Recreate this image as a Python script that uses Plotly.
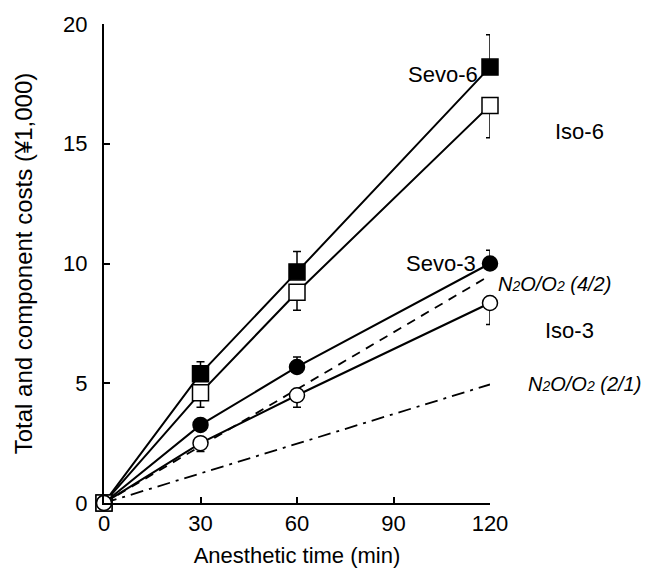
import plotly.graph_objects as go

time_min = [0, 30, 60, 120]
sevo6 = [0, 5.4, 9.65, 18.2]
sevo6_err = [0, 0.5, 0.85, 1.35]
iso6 = [0, 4.6, 8.8, 16.6]
iso6_err = [0, 0.6, 0.75, 1.35]
sevo3 = [0, 3.26, 5.68, 10.0]
sevo3_err = [0, 0.0, 0.42, 0.55]
iso3 = [0, 2.5, 4.5, 8.35]
iso3_err = [0, 0.35, 0.5, 0.9]
n2o_42_time = [0, 120]
n2o_42 = [0, 9.5]
n2o_21_time = [0, 120]
n2o_21 = [0, 4.95]

FONT = "Liberation Sans, Arial, Helvetica, sans-serif"
fig = go.Figure()

fig.add_trace(go.Scatter(x=n2o_21_time, y=n2o_21, mode="lines",
                         line=dict(color="black", width=1.8, dash="13px,6px,3px,6px"),
                         cliponaxis=False, showlegend=False))
fig.add_trace(go.Scatter(x=n2o_42_time, y=n2o_42, mode="lines",
                         line=dict(color="black", width=1.8, dash="9px,7px"),
                         cliponaxis=False, showlegend=False))

def add_series(y, err, symbol, fill, up):
    ed = dict(type="data", symmetric=False, color="black", thickness=1.5, width=4)
    if up:
        ed["array"] = err
        ed["arrayminus"] = [0] * len(err)
    else:
        ed["array"] = [0] * len(err)
        ed["arrayminus"] = err
    fig.add_trace(go.Scatter(x=time_min, y=y, mode="lines+markers",
                             line=dict(color="black", width=2),
                             marker=dict(symbol=symbol, size=16 if "square" in symbol else 15,
                                         color=fill, line=dict(color="black", width=1.5)),
                             error_y=ed, cliponaxis=False, showlegend=False))

add_series(sevo6, sevo6_err, "square", "black", True)
add_series(iso6, iso6_err, "square", "white", False)
add_series(sevo3, sevo3_err, "circle", "black", True)
add_series(iso3, iso3_err, "circle", "white", False)

# paper coordinates: x = (px - 104) / 386, y = (503 - py) / 479
sub = '<span style="font-size:14px">2</span>'
labels = [
    dict(x=0.878, y=0.894, text="Sevo-6", xanchor="center", size=22),
    dict(x=1.231, y=0.775, text="Iso-6", xanchor="center", size=22),
    dict(x=0.873, y=0.501, text="Sevo-3", xanchor="center", size=22),
    dict(x=1.205, y=0.361, text="Iso-3", xanchor="center", size=22),
    dict(x=1.016, y=0.457, text=f"<i>N{sub}O/O{sub} (4/2)</i>", xanchor="left", size=20),
    dict(x=1.094, y=0.248, text=f"<i>N{sub}O/O{sub} (2/1)</i>", xanchor="left", size=20),
]
for l in labels:
    fig.add_annotation(x=l["x"], y=l["y"], xref="paper", yref="paper", text=l["text"],
                       showarrow=False, xanchor=l["xanchor"], yanchor="middle",
                       font=dict(family=FONT, size=l["size"], color="black"))

fig.update_layout(
    width=651, height=569,
    margin=dict(l=104, r=161, t=24, b=66),
    plot_bgcolor="white", paper_bgcolor="white",
    font=dict(family=FONT, color="black"),
    xaxis=dict(range=[0, 120], tickvals=[0, 30, 60, 90, 120], ticks="inside", ticklen=6,
               tickwidth=1.5, tickcolor="black", showline=True, linecolor="black", linewidth=2,
               showgrid=False, zeroline=False, tickfont=dict(size=22), automargin=False,
               title=dict(text="Anesthetic time (min)", font=dict(size=22), standoff=12)),
    yaxis=dict(range=[0, 20], tickvals=[0, 5, 10, 15, 20], ticks="inside", ticklen=6,
               tickwidth=1.5, tickcolor="black", showline=True, linecolor="black", linewidth=2,
               showgrid=False, zeroline=False, tickfont=dict(size=22), ticklabelstandoff=10,
               automargin=False,
               title=dict(text="Total and component costs (¥1,000)", font=dict(size=24), standoff=24)),
)

fig.write_html("out.html", config={"displayModeBar": False},
               post_script="document.body.style.margin='0';")
